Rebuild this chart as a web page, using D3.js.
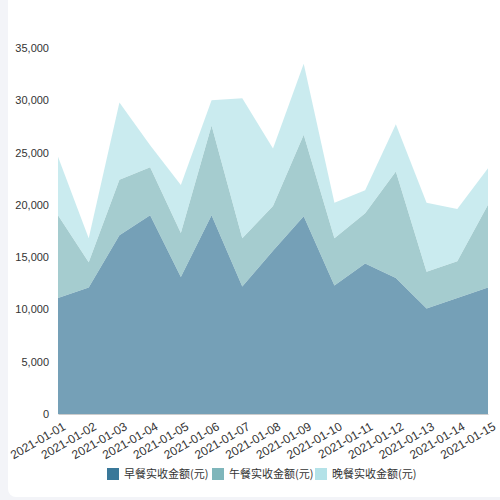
<!DOCTYPE html>
<html>
<head>
<meta charset="utf-8">
<script src="https://cdn.jsdelivr.net/npm/d3@7"></script>
<style>
  html, body { margin: 0; padding: 0; background: #f3f4f8; }
  svg { display: block; font-family: "Noto Sans CJK SC", "Noto Sans", sans-serif; }
</style>
</head>
<body>
<div id="chart"></div>
<script>
// data
var dates = ['2021-01-01', '2021-01-02', '2021-01-03', '2021-01-04', '2021-01-05',
    '2021-01-06', '2021-01-07', '2021-01-08', '2021-01-09', '2021-01-10',
    '2021-01-11', '2021-01-12', '2021-01-13', '2021-01-14', '2021-01-15'];
var breakfast = [11100, 12100, 17100, 19000, 13100, 19000, 12200, 15600, 18900, 12300, 14400, 13000, 10100, 11100, 12100];
var lunch = [7900, 2400, 5300, 4600, 4200, 8600, 4600, 4300, 7800, 4500, 4800, 10200, 3500, 3500, 7900];
var dinner = [5600, 2300, 7400, 2100, 4600, 2400, 13400, 5500, 6800, 3400, 2200, 4500, 6600, 5000, 3500];
var seriesNames = ['早餐实收金额(元)', '午餐实收金额(元)', '晚餐实收金额(元)'];
var colors = ['#3a7899', '#7fb6bb', '#b4e2e8'];
var yTicks = [0, 5000, 10000, 15000, 20000, 25000, 30000, 35000];

var width = 500, height = 500;
var svg = d3.select('#chart').append('svg')
    .attr('width', width)
    .attr('height', height);

// white card
svg.append('rect')
    .attr('x', 8).attr('y', -10)
    .attr('width', 510).attr('height', 507)
    .attr('rx', 8)
    .attr('fill', '#fff');

var table = dates.map((d, i) => ({ date: d, s0: breakfast[i], s1: lunch[i], s2: dinner[i] }));
var stack = d3.stack().keys(['s0', 's1', 's2']);
var layers = stack(table);

var x = d3.scalePoint().domain(dates).range([58, 488]);
var y = d3.scaleLinear().domain([0, 35000]).range([414, 48]);

var area = d3.area()
    .x(d => x(d.data.date))
    .y0(d => y(d[0]))
    .y1(d => y(d[1]));

svg.append('g').selectAll('path')
    .data(layers)
    .enter().append('path')
    .attr('d', area)
    .attr('fill', (d, i) => colors[i])
    .attr('fill-opacity', 0.7);

// y axis
var yAxis = svg.append('g')
    .attr('transform', 'translate(58,0)')
    .call(d3.axisLeft(y).tickValues(yTicks).tickFormat(d3.format(',')).tickSize(0).tickPadding(9));
yAxis.select('.domain').remove();
yAxis.selectAll('text').attr('fill', '#333').style('font-size', '11px');

// x axis
var xAxis = svg.append('g')
    .attr('transform', 'translate(0,414)')
    .call(d3.axisBottom(x).tickSize(0).tickPadding(6));
xAxis.select('.domain').attr('stroke', '#ccc');
xAxis.selectAll('text')
    .attr('fill', '#333')
    .style('font-size', '12px')
    .attr('text-anchor', 'end')
    .attr('dy', '0.35em')
    .attr('transform', 'translate(3,6) rotate(-30)');

// legend
var legendX = [107, 212, 315];
var legend = svg.append('g').selectAll('g')
    .data(seriesNames)
    .enter().append('g')
    .attr('transform', (d, i) => `translate(${legendX[i]},468)`);
legend.append('rect')
    .attr('width', 12).attr('height', 12)
    .attr('fill', (d, i) => colors[i]);
legend.append('text')
    .attr('x', 17).attr('y', 6)
    .attr('dy', '0.35em')
    .attr('fill', '#333')
    .style('font-size', '11px')
    .text(d => d);
</script>
</body>
</html>
